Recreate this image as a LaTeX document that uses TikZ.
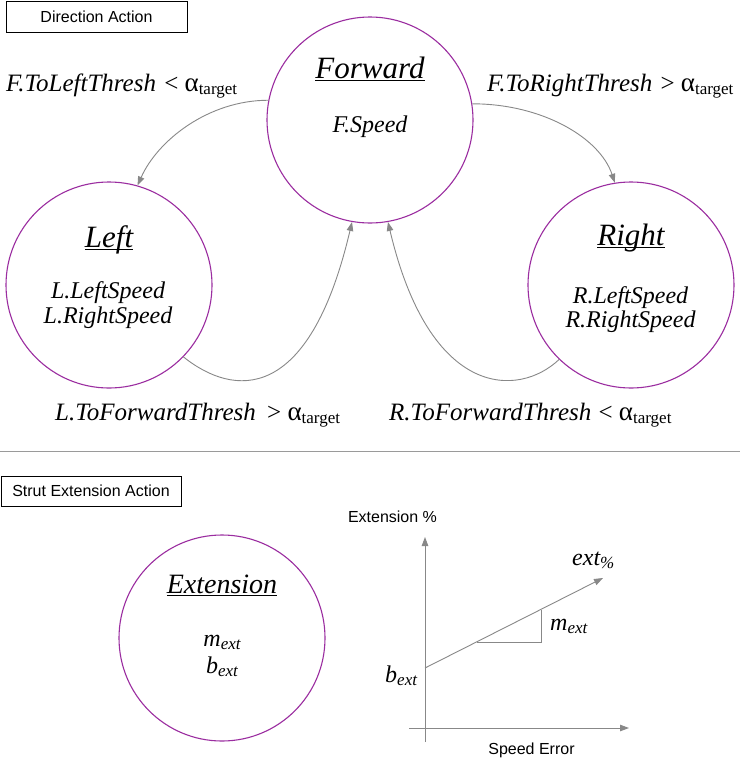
\documentclass[tikz,border=0pt]{standalone}
\usepackage{fontspec}
\setmainfont{Liberation Serif}
\newfontfamily\sansf{Liberation Sans}
\usetikzlibrary{arrows.meta}
\definecolor{circ}{RGB}{155,45,160}
\definecolor{conn}{RGB}{136,136,136}
\newcommand\myul[1]{\setbox0\hbox{#1}\rlap{\rule[-3pt]{\wd0}{1pt}}\box0}
\newcommand\mysub[1]{\raisebox{-3.5pt}{\fontsize{17}{17}\selectfont #1}}
\newcommand\alphat{{\fontsize{27}{27}\selectfont α}\mysub{target}}
\tikzset{
  state/.style={circle, draw=circ, line width=1.1pt, minimum size=206pt, inner sep=0pt},
  body/.style={font=\fontsize{24}{25}\selectfont\itshape, inner sep=0pt, anchor=base},
  title/.style={font=\fontsize{31}{32}\selectfont\itshape, inner sep=0pt, anchor=base},
  lbl/.style={font=\fontsize{25}{26}\selectfont, inner sep=0pt, anchor=base west},
  tag/.style={draw=black, line width=0.8pt, font=\sansf\fontsize{16}{16}\selectfont, inner sep=0pt},
  sanslbl/.style={font=\sansf\fontsize{16}{16}\selectfont, inner sep=0pt, anchor=base},
  conn/.style={draw=conn, line width=0.9pt, -{Triangle[length=9pt,width=6.5pt]}},
  plain/.style={draw=conn, line width=0.9pt},
}
\begin{document}
\begin{tikzpicture}[x=1pt,y=-1pt]
\useasboundingbox[fill=white] (0,0) rectangle (740,764);

% boxes
\node[tag, minimum width=181pt, minimum height=31pt] (da) at (96.5,16.5) {Direction Action};
\node[tag, minimum width=180pt, minimum height=30pt] (sa) at (91,491) {Strut Extension Action};

% divider
\coordinate (d1) at (0,451);
\coordinate (d2) at (740,451);
\draw[draw=conn!85, line width=0.9pt] (d1) -- (d2);

% states
\node[state] (F) at (370,120) {};
\node[state] (L) at (109,285) {};
\node[state] (R) at (631,285) {};
\node[state] (E) at (222,638) {};

\node[title] (Ft) at (370,78) {\myul{Forward}};
\node[body] (Fs) at (370,132) {F.Speed};

\node[title] (Lt) at (109,247) {\myul{Left}};
\node[body] (Ls1) at (108,298) {L.LeftSpeed};
\node[body] (Ls2) at (108,323) {L.RightSpeed};

\node[title] (Rt) at (631,245) {\myul{Right}};
\node[body] (Rs1) at (630.5,303) {R.LeftSpeed};
\node[body] (Rs2) at (630.5,327) {R.RightSpeed};

\node[title, font=\fontsize{28}{29}\selectfont\itshape] (Et) at (222,593) {\myul{Extension}};
\node[body] (Em) at (222,646) {m\mysub{ext}};
\node[body] (Eb) at (222,673) {b\mysub{ext}};

% connectors
\draw[conn] (F.169) .. controls +(-60,0) and +(20,-45) .. (L.74);
\draw[conn] (F.9) .. controls +(70,0) and +(-15,-45) .. (R.99);
\draw[conn] (L.-44) .. controls +(50,40) and +(-43,183) .. (F.260);
\draw[conn] (R.226) .. controls +(-40,38) and +(42,178) .. (F.280);

% edge labels
\node[lbl] (lfl) at (6,91) {\textit{F.ToLeftThresh}\hspace{2pt} < \alphat};
\node[lbl] (lfr) at (487,91) {\textit{F.ToRightThresh}\hspace{2pt} > \alphat};
\node[lbl] (llf) at (55,420) {\textit{L.ToForwardThresh}\hspace{5pt} > \alphat};
\node[lbl] (lrf) at (389,420) {\textit{R.ToForwardThresh}\hspace{1pt} < \alphat};

% graph
\coordinate (yb) at (425,742);
\coordinate (yt) at (425,537);
\coordinate (xl) at (409,728);
\coordinate (xr) at (629,728);
\coordinate (l0) at (425,668);
\coordinate (l1) at (603,578);
\coordinate (t1) at (477,642);
\coordinate (t2) at (541,642);
\coordinate (t3) at (541,610);
\draw[conn] (yb) -- (yt);
\draw[conn] (xl) -- (xr);
\draw[conn] (l0) -- (l1);
\draw[plain] (t1) -- (t2) -- (t3);

\node[sanslbl] (ylab) at (392.5,522) {Extension \%};
\node[sanslbl] (xlab) at (531.5,754) {Speed Error};
\node[body, anchor=base west] (extp) at (572,565) {ext\mysub{\%}};
\node[body, anchor=base west] (mlab) at (550,630) {m\mysub{ext}};
\node[body, anchor=base west] (blab) at (385,682) {b\mysub{ext}};
\end{tikzpicture}
\end{document}
